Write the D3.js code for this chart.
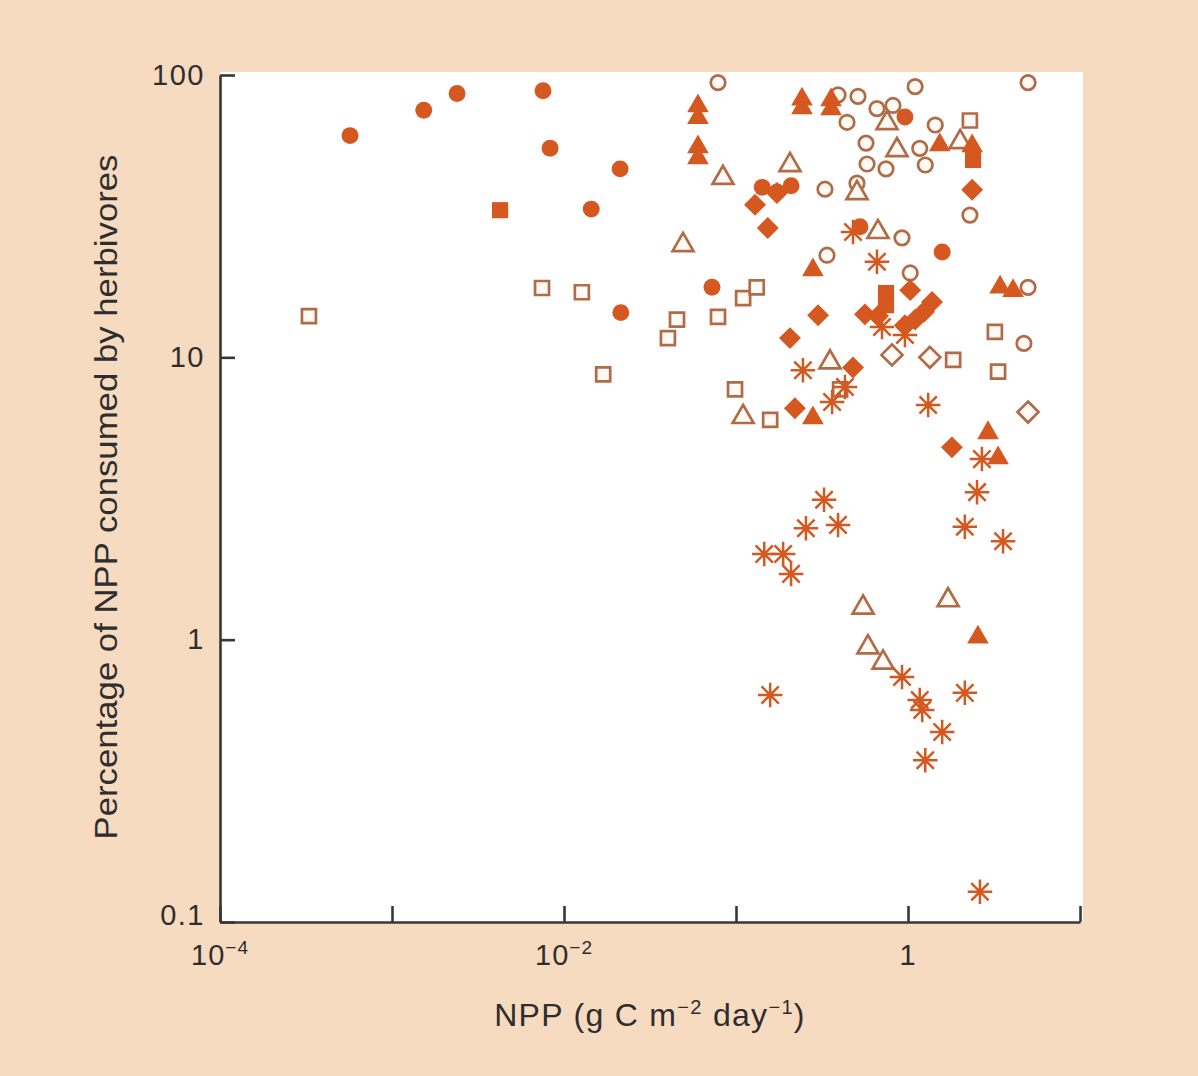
<!DOCTYPE html>
<html>
<head>
<meta charset="utf-8">
<script src="https://cdn.jsdelivr.net/npm/d3@7"></script>
<style>
  body { margin: 0; background: #f7dbc0; }
  svg { display: block; }
</style>
</head>
<body>
<div id="chart"></div>
<script>
// values: [NPP (g C m-2 day-1), % of NPP consumed]
const filledCircles = [
  [5.7e-4, 61], [1.53e-3, 75], [2.39e-3, 86], [7.55e-3, 88], [8.3e-3, 55],
  [0.0144, 33.5], [0.0212, 46.5], [0.0214, 14.4], [0.0725, 17.7],
  [0.142, 40], [0.173, 38.5], [0.209, 40.5], [0.96, 71], [0.526, 29], [1.58, 23.6]
];
const openCircles = [
  [0.0786, 94], [0.392, 85], [0.512, 84], [0.442, 68], [0.66, 76], [0.818, 78],
  [1.10, 91], [1.44, 66.5], [0.57, 57.4], [0.578, 48.4], [0.745, 46.5], [1.17, 55],
  [1.26, 48], [0.329, 39.4], [0.505, 41.4], [2.29, 31.9], [0.923, 26.5], [0.338, 23],
  [1.03, 19.9], [4.99, 94], [4.99, 17.7], [4.72, 11.2]
];
const filledSquares = [
  [4.25e-3, 33.2], [0.745, 16.9], [0.745, 15.3], [2.39, 50]
];
const openSquares = [
  [3.29e-4, 14], [7.45e-3, 17.6], [0.0127, 17], [0.0402, 11.7], [0.0454, 13.6],
  [0.0786, 13.9], [0.110, 16.2], [0.132, 17.7], [0.0169, 8.7], [0.0987, 7.7],
  [0.158, 6.0], [0.403, 7.7], [1.83, 9.8], [2.29, 69], [3.2, 12.3], [3.34, 8.9]
];
const filledTriangles = [
  [0.0601, 77.6], [0.0601, 70.5], [0.0601, 55.6], [0.0601, 50.8], [0.242, 82],
  [0.242, 76.4], [0.357, 81.5], [0.357, 75.8], [0.28, 20.4], [0.28, 6.1],
  [1.53, 56.5], [2.36, 56], [3.43, 17.7], [4.08, 17.2], [2.92, 5.4], [3.34, 4.4],
  [2.55, 1.02]
];
const openTriangles = [
  [0.084, 43.2], [0.206, 48], [0.0492, 25], [0.110, 6.15], [0.352, 9.6],
  [0.505, 38.2], [0.755, 67.6], [0.863, 54.2], [0.669, 27.8], [2.01, 57.9],
  [0.548, 1.30], [1.71, 1.38], [0.585, 0.94], [0.716, 0.83]
];
const filledDiamonds = [
  [0.129, 34.7], [0.153, 28.7], [0.173, 38.2], [2.36, 39.2], [0.206, 11.7],
  [0.300, 14.1], [0.220, 6.6], [0.479, 9.2], [1.80, 4.8], [1.03, 17.3],
  [0.562, 14.2], [0.669, 14.0], [1.38, 15.7], [1.24, 14.5], [1.10, 13.6], [0.96, 13.0]
];
const openDiamonds = [
  [0.807, 10.2], [1.34, 10.0], [4.99, 6.4]
];
const asterisks = [
  [0.66, 21.8], [0.479, 27.8], [0.706, 12.8], [0.96, 12.0], [0.245, 9.0],
  [0.43, 7.85], [0.362, 6.95], [0.325, 3.13], [0.255, 2.48], [0.392, 2.55],
  [0.146, 2.01], [0.188, 2.01], [0.209, 1.71], [0.158, 0.637], [0.923, 0.738],
  [1.17, 0.611], [1.21, 0.564], [1.58, 0.471], [1.26, 0.374], [1.31, 6.78],
  [2.69, 4.36], [2.52, 3.33], [2.14, 2.51], [3.57, 2.23], [2.14, 0.648], [2.62, 0.128]
];

const xTicks = [1e-4, 1e-3, 1e-2, 1e-1, 1, 10];
const xTickLabels = [
  { value: 1e-4, base: '10', exp: '−4' },
  { value: 1e-2, base: '10', exp: '−2' },
  { value: 1, base: '1', exp: '' }
];
const yTicks = [0.1, 1, 10, 100];
const yTickLabels = ['0.1', '1', '10', '100'];

const width = 1198, height = 1076;
const margin = { top: 75, right: 118, bottom: 154, left: 220 };

const orange = '#d4581f';
const brown = '#b06b48';
const axisColor = '#383838';
const font = "'Liberation Sans', Arial, sans-serif";

// custom marker shapes
const asteriskShape = {
  draw(ctx, size) {
    const r = Math.sqrt(size) / 2;
    for (let i = 0; i < 4; i++) {
      const a = i * Math.PI / 4;
      ctx.moveTo(-r * Math.cos(a), -r * Math.sin(a));
      ctx.lineTo(r * Math.cos(a), r * Math.sin(a));
    }
  }
};
const diamondShape = {
  draw(ctx, size) {
    const r = Math.sqrt(size) / 2;
    ctx.moveTo(0, -r);
    ctx.lineTo(r, 0);
    ctx.lineTo(0, r);
    ctx.lineTo(-r, 0);
    ctx.closePath();
  }
};
const triangleShape = {
  draw(ctx, size) {
    const s = Math.sqrt(size);
    const h = s * 0.866;
    ctx.moveTo(0, -h * 2 / 3);
    ctx.lineTo(s / 2, h / 3);
    ctx.lineTo(-s / 2, h / 3);
    ctx.closePath();
  }
};

// drawing order: hollow marks first, filled marks on top
const series = [
  { data: openSquares, shape: d3.symbolSquare, size: 196, filled: false },
  { data: openCircles, shape: d3.symbolCircle, size: 165, filled: false },
  { data: openTriangles, shape: triangleShape, size: 440, filled: false },
  { data: openDiamonds, shape: diamondShape, size: 440, filled: false },
  { data: asterisks, shape: asteriskShape, size: 600, filled: false, star: true },
  { data: filledDiamonds, shape: diamondShape, size: 480, filled: true },
  { data: filledSquares, shape: d3.symbolSquare, size: 260, filled: true },
  { data: filledCircles, shape: d3.symbolCircle, size: 225, filled: true },
  { data: filledTriangles, shape: triangleShape, size: 470, filled: true }
];

const svg = d3.select('#chart')
  .append('svg')
  .attr('width', width)
  .attr('height', height);

svg.append('rect')
  .attr('width', width)
  .attr('height', height)
  .attr('fill', '#f7dbc0');

const chartWidth = width - margin.left - margin.right;
const chartHeight = height - margin.top - margin.bottom;

const x = d3.scaleLog()
  .domain([1e-4, 10])
  .range([0, chartWidth]);

const y = d3.scaleLog()
  .domain([0.1, 100])
  .range([chartHeight, 0]);

const g = svg.append('g')
  .attr('transform', `translate(${margin.left}, ${margin.top})`);

// white plot area
g.append('rect')
  .attr('x', 0)
  .attr('y', -3)
  .attr('width', chartWidth + 3)
  .attr('height', chartHeight + 3)
  .attr('fill', '#ffffff');

// markers
series.forEach(s => {
  const sym = d3.symbol().type(s.shape).size(s.size);
  g.append('g')
    .selectAll('path')
    .data(s.data)
    .enter().append('path')
    .attr('transform', d => `translate(${x(d[0])}, ${y(d[1])})`)
    .attr('d', sym)
    .attr('fill', s.star ? 'none' : (s.filled ? orange : '#fffaf3'))
    .attr('stroke', s.star ? orange : (s.filled ? 'none' : brown))
    .attr('stroke-width', s.star ? 2.5 : 2.7);
});

// axes (ticks point into the plot)
const yAxis = d3.axisLeft(y)
  .tickValues(yTicks)
  .tickSizeInner(-15)
  .tickSizeOuter(0)
  .tickPadding(15)
  .tickFormat((d, i) => yTickLabels[i]);

const yAxisG = g.append('g').call(yAxis);
yAxisG.selectAll('path, line')
  .attr('stroke', axisColor)
  .attr('stroke-width', 2.6);
yAxisG.selectAll('text')
  .attr('fill', '#2e2e2e')
  .style('font-family', font)
  .style('font-size', '29px')
  .style('letter-spacing', '1.5px');
yAxisG.selectAll('.tick')
  .filter(d => d === 0.1)
  .select('text')
  .attr('dy', '0.1em');

const xAxis = d3.axisBottom(x)
  .tickValues(xTicks)
  .tickSizeInner(-16)
  .tickSizeOuter(0)
  .tickFormat('');

const xAxisG = g.append('g')
  .attr('transform', `translate(0, ${chartHeight})`)
  .call(xAxis);
xAxisG.selectAll('path, line')
  .attr('stroke', axisColor)
  .attr('stroke-width', 2.6);

// x tick labels with superscript exponents
const xl = g.append('g')
  .style('font-family', font)
  .style('font-size', '29px')
  .style('letter-spacing', '1px')
  .attr('fill', '#2e2e2e');

xTickLabels.forEach(t => {
  const txt = xl.append('text')
    .attr('x', x(t.value))
    .attr('y', chartHeight + 43)
    .attr('text-anchor', 'middle');
  txt.append('tspan').text(t.base);
  if (t.exp) {
    txt.append('tspan')
      .attr('dy', -11)
      .style('font-size', '19px')
      .text(t.exp);
  }
});

// axis titles
const xTitle = svg.append('text')
  .attr('x', 650)
  .attr('y', 1026)
  .attr('text-anchor', 'middle')
  .attr('fill', '#2e2e2e')
  .style('font-family', font)
  .style('font-size', '32px')
  .style('letter-spacing', '1.3px');
xTitle.append('tspan').text('NPP (g C m');
xTitle.append('tspan').attr('dy', -12).style('font-size', '20px').text('−2');
xTitle.append('tspan').attr('dy', 12).text(' day');
xTitle.append('tspan').attr('dy', -12).style('font-size', '20px').text('−1');
xTitle.append('tspan').attr('dy', 12).text(')');

svg.append('text')
  .attr('transform', 'translate(117, 497) rotate(-90)')
  .attr('text-anchor', 'middle')
  .attr('fill', '#2e2e2e')
  .attr('textLength', 685)
  .attr('lengthAdjust', 'spacingAndGlyphs')
  .style('font-family', font)
  .style('font-size', '31px')
  .text('Percentage of NPP consumed by herbivores');
</script>
</body>
</html>
